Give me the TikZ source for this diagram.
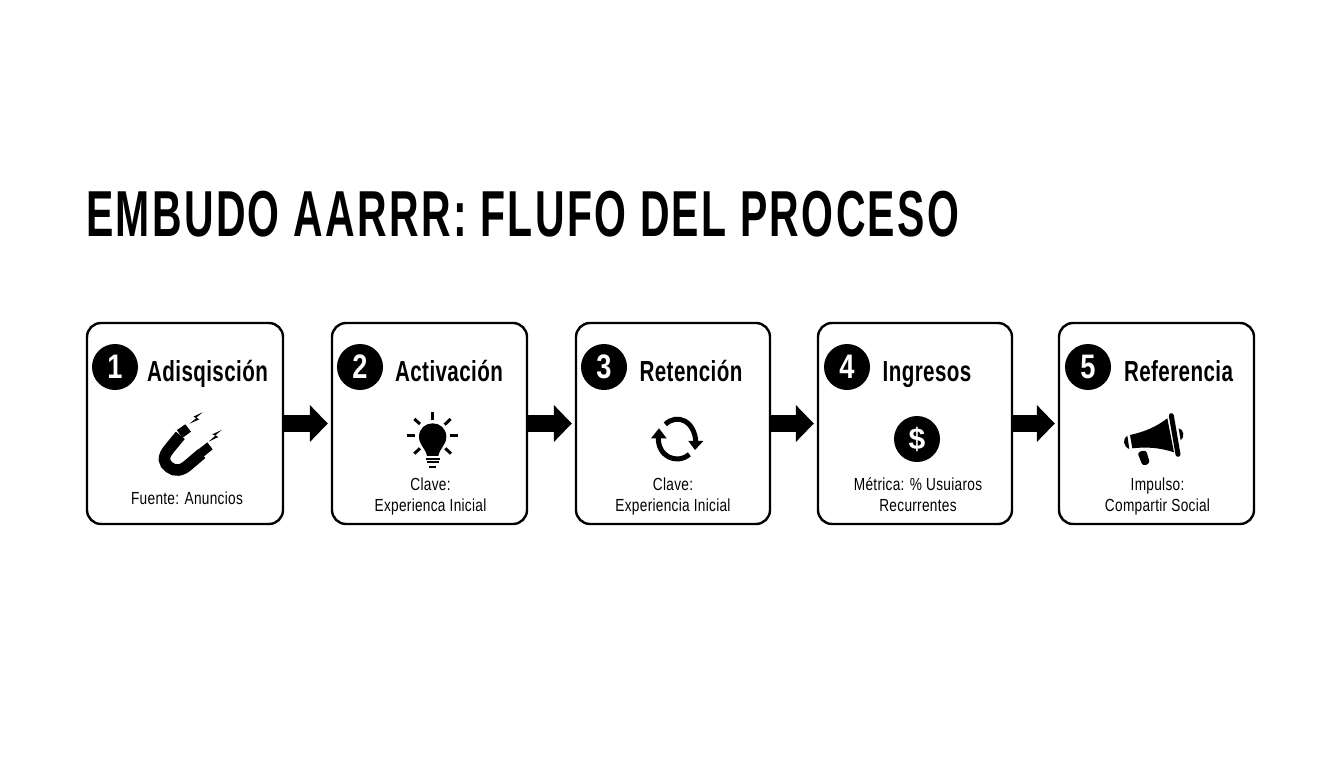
\documentclass[tikz,border=0pt]{standalone}
\usepackage{fontspec}
\usetikzlibrary{arrows.meta}
\setmainfont{Liberation Sans}
\newfontfamily\condreg[FakeStretch=0.78,LetterSpace=1.7]{Liberation Sans}
\newfontfamily\condbold[FakeStretch=0.71,LetterSpace=1.4]{Liberation Sans Bold}
\newfontfamily\digitbold[FakeStretch=0.80]{Liberation Sans Bold}
\newfontfamily\titlebold[FakeStretch=0.63,LetterSpace=3.6]{Liberation Sans Bold}
\tikzset{
  card/.style={draw=black,line width=2.4pt,rounded corners=14pt,fill=white,inner sep=0pt,
    minimum height=201pt},
  badge/.style={circle,fill=black,text=white,minimum size=46pt,inner sep=0pt,
    font=\digitbold\fontsize{34}{34}\selectfont},
  heading/.style={inner sep=0pt,anchor=base,font=\condbold\fontsize{29}{29}\selectfont},
  caption/.style={inner sep=0pt,align=center,font=\condreg\fontsize{17.5}{21}\selectfont},
  flow/.style={line width=17pt,-{Triangle[length=18pt,width=36pt]},shorten >=3pt},
  zoomA/.style={x=0.3333pt,y=-0.3333pt}
}
\begin{document}
\begin{tikzpicture}[x=1pt,y=-1pt]
\useasboundingbox (0,0) rectangle (1344,768);
\fill[white] (0,0) rectangle (1344,768);
\node[anchor=west,inner sep=0pt,font=\titlebold\fontsize{65}{65}\selectfont] (title) at (86,214) {EMBUDO AARRR: FLUFO DEL PROCESO};
% cards
\node[card,minimum width=196pt] (c1) at (185,423.5) {};
\node[card,minimum width=195pt] (c2) at (429.5,423.5) {};
\node[card,minimum width=194pt] (c3) at (673,423.5) {};
\node[card,minimum width=194pt] (c4) at (915,423.5) {};
\node[card,minimum width=195pt] (c5) at (1156.5,423.5) {};
% connectors
\draw[flow] (c1.east) -- (c2.west);
\draw[flow] (c2.east) -- (c3.west);
\draw[flow] (c3.east) -- (c4.west);
\draw[flow] (c4.east) -- (c5.west);
% badges
\node[badge] (n1) at (115,367) {1};
\node[badge] (n2) at (360,367) {2};
\node[badge] (n3) at (604,367) {3};
\node[badge] (n4) at (847,367) {4};
\node[badge] (n5) at (1088,367) {5};
% headings
\node[heading] (h1) at (207.5,381) {Adisqisción};
\node[heading] (h2) at (449,381) {Activación};
\node[heading] (h3) at (691,381) {Retención};
\node[heading] (h4) at (927,381) {Ingresos};
\node[heading] (h5) at (1178.5,381) {Referencia};
% captions
\node[caption] (t1) at (187,498) {Fuente: Anuncios};
\node[caption] (t2) at (430.5,496) {Clave:\\Experienca Inicial};
\node[caption] (t3) at (673,496) {Clave:\\Experiencia Inicial};
\node[caption] (t4) at (918,494.5) {Métrica: \% Usuiaros\\Recurrentes};
\node[caption] (t5) at (1157.5,496) {Impulso:\\Compartir Social};
% magnet
\begin{scope}[shift={(80,315)},zoomA]
  \draw[line width=11.5pt] (301,361) -- (268,401) .. controls (245,428) and (252,445) .. (268,457)
     .. controls (285,470) and (305,468) .. (325,450) -- (365,416);
  \fill (291,345) -- (316,328) -- (333,350) -- (307,369) -- cycle;
  \fill (354,404) -- (382,382) -- (398,403) -- (371,425) -- cycle;
  \fill (368,292) -- (340,305) -- (349,309) -- (329,326) -- (358,313) -- (349,308) -- cycle;
  \fill (425,345) -- (397,358) -- (406,362) -- (386,380) -- (415,366) -- (406,361) -- cycle;
\end{scope}
% bulb
\begin{scope}[shift={(330,315)},zoomA]
  \fill (291,423) .. controls (287,400) and (267,390) .. (267,365)
        .. controls (267,340) and (287,325) .. (308,325)
        .. controls (329,325) and (349,340) .. (349,365)
        .. controls (349,390) and (329,400) .. (325,423) -- cycle;
  \draw[line width=1.8pt] (289,431) -- (329,431);
  \draw[line width=1.8pt] (290,442) -- (328,442);
  \draw[line width=2pt] (298,455) -- (318,455);
  \begin{scope}[line width=3pt]
    \draw (307,290) -- (307,315);
    \draw (230,363) -- (255,363);
    \draw (360,363) -- (385,363);
    \draw (253,312) -- (270,327);
    \draw (362,312) -- (344,329);
    \draw (253,416) -- (270,400);
    \draw (363,416) -- (346,400);
  \end{scope}
\end{scope}
% refresh
\begin{scope}[shift={(570,315)},zoomA]
  \draw[line width=5pt] (286,328) .. controls (320,295) and (375,315) .. (378,385);
  \draw[line width=5pt] (358,418) .. controls (320,450) and (262,425) .. (265,365);
  \fill (355,378) -- (400,378) -- (375,405) -- cycle;
  \fill (243,370) -- (290,370) -- (267,340) -- cycle;
\end{scope}
% dollar
\node[circle,fill=black,text=white,minimum size=46pt,inner sep=0pt,font=\bfseries\fontsize{30}{30}\selectfont] (d4) at (917,439) {\$};
% megaphone
\begin{scope}[shift={(1050,315)},zoomA]
  \fill (240,360) .. controls (285,350) and (320,335) .. (352,310) -- (372,412) .. controls (330,398) and (290,395) .. (247,400) -- cycle;
  \draw[line width=5pt,line cap=round] (364,302) -- (384,418);
  \fill (232,362) .. controls (218,370) and (218,395) .. (238,402) -- cycle;
  \fill (386,340) .. controls (402,342) and (405,368) .. (392,376) -- cycle;
  \fill[rounded corners=3pt] (262,412) -- (288,405) -- (300,445) -- (278,453) -- cycle;
\end{scope}
\end{tikzpicture}
\end{document}
